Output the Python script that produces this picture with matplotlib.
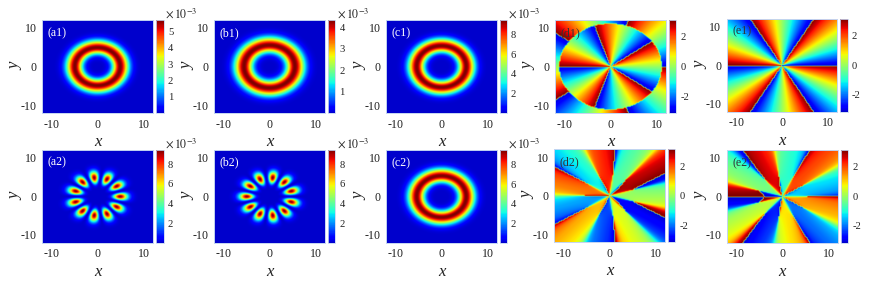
import numpy as np
import matplotlib
matplotlib.use("Agg")
import matplotlib.pyplot as plt
from matplotlib.colors import ListedColormap

plt.rcParams['font.family'] = ['Liberation Serif', 'DejaVu Serif']
plt.rcParams['mathtext.fontset'] = 'stix'
plt.rcParams['axes.unicode_minus'] = False

W, H = 872, 284

# values
# ring panels: radius of the dark red band, band width, colorbar top (x 10^-3)
ring_panels = ["a1", "b1", "c1", "c2"]
ring_radius = [4.9, 5.5, 5.35, 5.35]
ring_width = [1.2, 1.35, 1.2, 1.2]
ring_peak = [5.7, 4.34, 9.5, 9.5]
ring_ticks = [[1, 2, 3, 4, 5], [1, 2, 3, 4], [2, 4, 6, 8], [2, 4, 6, 8]]

# petal panels: 11 lobes, a2 has a lobe at 0 deg, b2 has one at 180 deg
petal_panels = ["a2", "b2"]
petal_angle = [0.0, 180.0]
petal_peak = [9.5, 9.5]
petal_ticks = [[2, 4, 6, 8], [2, 4, 6, 8]]
petal_sigma = 2.1
crossing_radius = 5.4
crossing_power = 0.6

# phase panels
vortex_inner = 5
vortex_outer = 6
disk_radius = 11.1
phase_ticks = [-2, 0, 2]
axis_ticks = [-10, 0, 10]

# pixel boxes: axes left, right, top, bottom, colorbar left, right
boxes = {
    "a1": (42.3, 153, 20, 113, 156.3, 163.7),
    "b1": (214.3, 324.7, 20, 113, 328, 335.3),
    "c1": (386.3, 496.7, 20, 113, 499.7, 506.7),
    "d1": (555.3, 665.7, 20, 113, 668.7, 676),
    "e1": (727, 837, 18.7, 111.7, 840.3, 847.7),
    "a2": (42.3, 153, 149.7, 242.7, 156.3, 163.7),
    "b2": (214.3, 324.7, 149.7, 242.7, 328, 335.3),
    "c2": (386.3, 496.7, 150, 242.7, 499.7, 506.7),
    "d2": (554.3, 665, 149.3, 242.3, 668, 675.3),
    "e2": (727, 837.7, 150, 242.7, 841, 848),
}

grid = np.linspace(-12, 12, 481)
X, Y = np.meshgrid(grid, grid)
R = np.hypot(X, Y)
T = np.arctan2(Y, X)

# jet without its darkest navy end
cmap = ListedColormap(plt.get_cmap("jet")(np.linspace(0.07, 1, 256)))


def wrap(p):
    return np.angle(np.exp(1j * p))


def soften(field, step=5):
    # coarse sampling then linear fill, jumps turn into thin grey seams after downsampling
    n = field.shape[0]
    idx = np.arange(0, n, step)
    fine = np.arange(n)
    rows = np.array([np.interp(fine, idx, row) for row in field[np.ix_(idx, idx)]])
    return np.array([np.interp(fine, idx, rows[:, j]) for j in range(n)]).T


def petal_density(angle, vmax):
    a = (R / crossing_radius) ** vortex_inner * np.exp(-R**2 / (2 * petal_sigma**2))
    b = (R / crossing_radius) ** vortex_outer * np.exp(-R**2 / (2 * petal_sigma**2))
    d = np.abs(a + b * np.exp(1j * 11 * (T - np.radians(angle)))) ** 2
    return d / d.max() * vmax


def mixed_phase(sign, shift):
    ratio = (R / crossing_radius) ** crossing_power
    return np.angle(np.exp(1j * sign * vortex_inner * T)
                    + shift * ratio * np.exp(-1j * sign * vortex_outer * T))


fields = {}
ticks = {}
vlims = {}
for name, r0, w, top, tk in zip(ring_panels, ring_radius, ring_width, ring_peak, ring_ticks):
    side = np.where(R > r0, 1.08 * w, 0.95 * w)
    fields[name] = top * np.exp(-(R - r0) ** 2 / (2 * side**2))
    ticks[name] = tk
    vlims[name] = (0, top)
for name, ang, top, tk in zip(petal_panels, petal_angle, petal_peak, petal_ticks):
    fields[name] = petal_density(ang, top)
    ticks[name] = tk
    vlims[name] = (0, top)

fields["d1"] = soften(np.where(R < disk_radius, wrap(vortex_inner * T), wrap(vortex_inner * T - np.pi)))
fields["e1"] = soften(wrap(vortex_outer * T - np.pi))
fields["d2"] = soften(mixed_phase(1, 1))
fields["e2"] = soften(mixed_phase(-1, -1))
for name in ["d1", "e1", "d2", "e2"]:
    ticks[name] = phase_ticks
    vlims[name] = (-np.pi, np.pi)

fig = plt.figure(figsize=(W / 100, H / 100), dpi=100)


def add_box(x0, x1, y0, y1):
    return fig.add_axes([x0 / W, 1 - y1 / H, (x1 - x0) / W, (y1 - y0) / H])


for name, (x0, x1, y0, y1, c0, c1) in boxes.items():
    ax = add_box(x0, x1, y0, y1)
    im = ax.imshow(fields[name], origin="lower", extent=[-12, 12, -12, 12], aspect="auto",
                   cmap=cmap, vmin=vlims[name][0], vmax=vlims[name][1],
                   interpolation="bilinear", interpolation_stage="rgba")
    ax.set_xticks(axis_ticks)
    ax.set_yticks(axis_ticks)
    ax.tick_params(length=0, labelsize=8.6, pad=4, labelcolor="#222222")
    ax.set_xlabel("x", fontsize=12, style="italic", color="#222222", va="center")
    ax.set_ylabel("y", fontsize=12, style="italic", color="#222222", va="center", rotation=90)
    ax.xaxis.set_label_coords(0.5, -29 / (y1 - y0))
    ax.yaxis.set_label_coords(-27 / (x1 - x0), 0.5)
    for s in ax.spines.values():
        s.set_color("#c4d4f2")
        s.set_linewidth(0.7)

    col = "white" if name[0] in "abc" else "#333333"
    ax.text(5.5 / (x1 - x0), 1 - 13 / (y1 - y0), "(" + name + ")", transform=ax.transAxes,
            color=col, fontsize=8.6, va="center", ha="left")

    cax = add_box(c0, c1, y0, y1)
    cb = fig.colorbar(im, cax=cax)
    cb.set_ticks(ticks[name])
    cb.ax.tick_params(length=0, labelsize=7.6, pad=3, labelcolor="#222222")
    cb.outline.set_edgecolor("#c4d4f2")
    cb.outline.set_linewidth(0.6)
    if name[0] in "abc":
        fig.text((c1 + 1.5) / W, 1 - (y0 - 6) / H, r"$\times\,10^{-3}$", fontsize=8.6,
                 color="#222222", ha="left", va="center")

fig.savefig("out.png", dpi=100)
